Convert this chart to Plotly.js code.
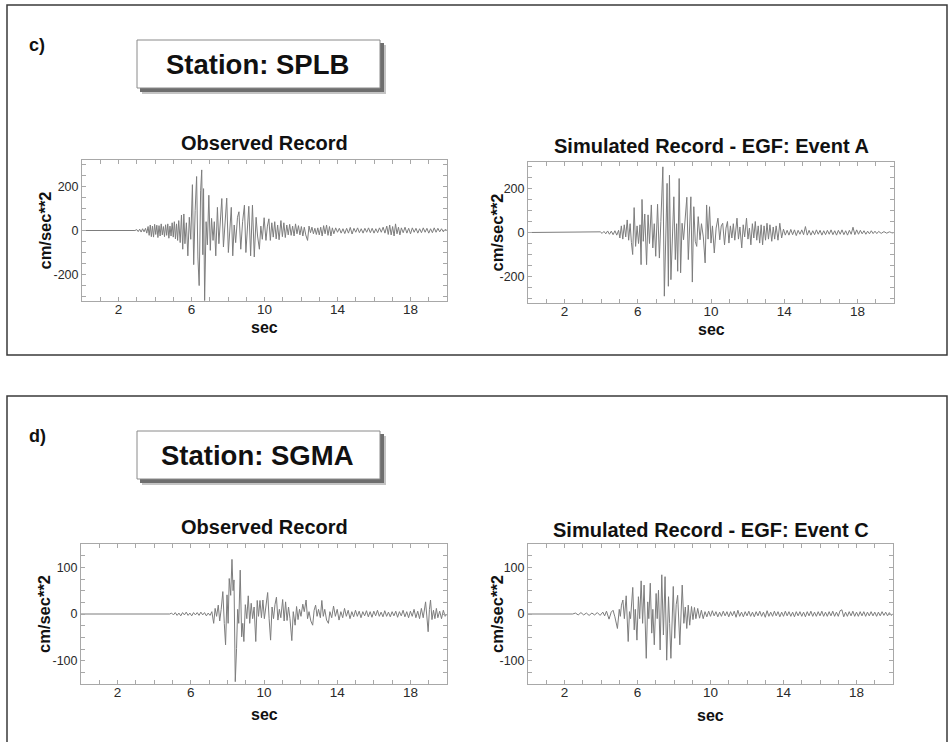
<!DOCTYPE html>
<html>
<head>
<meta charset="utf-8">
<script src="https://cdn.plot.ly/plotly-3.0.1.min.js"></script>
<style>
html,body{margin:0;padding:0;background:#fff;}
#chart{width:949px;height:742px;}
</style>
</head>
<body>
<div id="chart"></div>
<script>
// ---------------- DATA (time [sec], acceleration [cm/sec**2]) ----------------
const obsSPLB = [[0,0],[2.9,0],[3.0,4],[3.08,-5],[3.16,6],[3.24,-7],[3.32,8],[3.4,-6],[3.48,10],[3.55,-12],[3.62,18],[3.68,-22],[3.74,25],[3.8,-28],[3.86,20],[3.92,-30],[3.98,28],[4.04,-18],[4.1,24],[4.16,-32],[4.22,22],[4.28,-25],[4.34,30],[4.4,-20],[4.46,18],[4.52,-28],[4.58,26],[4.64,-22],[4.7,30],[4.76,-35],[4.82,20],[4.88,-25],[4.94,35],[5.0,-30],[5.06,40],[5.12,-38],[5.18,30],[5.24,-45],[5.3,45],[5.38,-55],[5.45,70],[5.52,-85],[5.58,75],[5.64,-60],[5.72,35],[5.8,-115],[5.88,60],[5.96,-40],[6.05,208],[6.12,-155],[6.2,90],[6.28,245],[6.35,-120],[6.42,-250],[6.5,180],[6.56,275],[6.62,-110],[6.66,190],[6.72,-318],[6.8,40],[6.87,-65],[6.95,160],[7.03,-90],[7.1,55],[7.18,-45],[7.25,40],[7.33,-115],[7.42,105],[7.5,-60],[7.58,50],[7.66,145],[7.75,-75],[7.84,60],[7.93,147],[8.02,-100],[8.1,30],[8.18,105],[8.26,-115],[8.34,25],[8.42,-55],[8.52,60],[8.6,85],[8.7,-85],[8.8,40],[8.9,115],[8.98,-100],[9.06,20],[9.14,110],[9.24,-115],[9.34,115],[9.44,-120],[9.54,60],[9.62,-25],[9.72,-85],[9.8,20],[9.88,-40],[9.98,58],[10.08,-45],[10.16,20],[10.24,53],[10.32,-45],[10.4,35],[10.48,-30],[10.56,40],[10.64,-38],[10.72,25],[10.8,-42],[10.9,45],[10.98,-28],[11.06,35],[11.14,-32],[11.22,25],[11.3,-20],[11.38,28],[11.46,-22],[11.54,20],[11.62,-25],[11.7,30],[11.78,-15],[11.86,22],[11.94,-20],[12.02,18],[12.1,-25],[12.18,15],[12.26,-20],[12.36,-45],[12.44,20],[12.52,-10],[12.6,15],[12.68,-15],[12.76,10],[12.84,-18],[12.92,12],[13.0,-20],[13.08,15],[13.16,-25],[13.24,22],[13.32,-15],[13.4,25],[13.48,-22],[13.56,18],[13.64,-25],[13.72,12],[13.8,-15],[13.9,12],[14.0,-8],[14.1,10],[14.2,-12],[14.3,8],[14.4,-14],[14.5,10],[14.6,-12],[14.7,14],[14.8,-16],[14.9,10],[15.0,-8],[15.1,12],[15.2,-10],[15.3,8],[15.4,-12],[15.5,10],[15.6,-8],[15.7,12],[15.8,-10],[15.9,10],[16.0,-12],[16.1,8],[16.2,-10],[16.3,12],[16.4,-8],[16.5,15],[16.6,-12],[16.7,20],[16.78,-18],[16.86,25],[16.94,-20],[17.02,18],[17.1,-25],[17.18,30],[17.26,-15],[17.34,15],[17.42,-20],[17.5,12],[17.6,-10],[17.7,15],[17.8,-12],[17.9,10],[18.0,-15],[18.1,12],[18.2,-8],[18.3,10],[18.4,-12],[18.5,8],[18.6,-10],[18.7,12],[18.8,-8],[18.9,10],[19.0,-12],[19.1,8],[19.2,-10],[19.3,12],[19.4,-8],[19.5,10],[19.6,-6],[19.7,8],[19.8,-6],[19.9,5],[20,0]];

const simSPLB = [[0,0],[3.85,0],[3.95,3],[4.05,-4],[4.15,5],[4.25,-6],[4.35,7],[4.45,-8],[4.55,6],[4.65,-10],[4.75,8],[4.85,-12],[4.95,10],[5.02,-25],[5.1,30],[5.18,-30],[5.26,35],[5.34,-20],[5.42,57],[5.5,-35],[5.58,40],[5.65,-45],[5.72,-100],[5.8,113],[5.88,-63],[5.96,30],[6.04,-50],[6.12,35],[6.18,-146],[6.23,150],[6.3,-40],[6.38,84],[6.48,-146],[6.56,80],[6.64,-50],[6.74,125],[6.82,-70],[6.9,40],[6.98,-108],[7.08,128],[7.18,-116],[7.26,50],[7.37,298],[7.45,-289],[7.53,50],[7.6,223],[7.67,-244],[7.73,260],[7.81,-214],[7.9,60],[7.97,162],[8.05,-123],[8.12,40],[8.18,-176],[8.26,245],[8.34,-183],[8.42,42],[8.5,-33],[8.58,60],[8.68,160],[8.76,-123],[8.84,60],[8.9,162],[8.98,-225],[9.06,117],[9.14,-40],[9.22,-63],[9.3,72],[9.4,-33],[9.48,40],[9.58,-20],[9.68,-138],[9.76,125],[9.84,-30],[9.92,117],[10.0,-48],[10.08,30],[10.18,-93],[10.28,20],[10.38,65],[10.48,-33],[10.56,30],[10.64,42],[10.74,-56],[10.82,20],[10.9,50],[10.98,-48],[11.06,30],[11.14,-25],[11.22,40],[11.3,-35],[11.42,65],[11.5,-30],[11.58,25],[11.68,-70],[11.76,35],[11.84,-20],[11.94,65],[12.02,-30],[12.1,20],[12.18,-56],[12.26,40],[12.34,-25],[12.42,50],[12.5,-35],[12.58,30],[12.66,-48],[12.74,35],[12.82,-56],[12.9,30],[12.98,-35],[13.06,42],[13.14,-30],[13.22,35],[13.32,-40],[13.4,25],[13.48,-30],[13.56,30],[13.66,-35],[13.76,42],[13.86,-25],[13.96,15],[14.06,-12],[14.16,10],[14.26,-12],[14.36,14],[14.46,-10],[14.56,12],[14.66,-14],[14.76,10],[14.86,-8],[14.96,12],[15.06,-10],[15.16,27],[15.26,-12],[15.36,10],[15.46,-12],[15.56,8],[15.66,-10],[15.76,12],[15.86,-8],[15.96,10],[16.06,-12],[16.16,8],[16.26,-10],[16.36,10],[16.46,-8],[16.56,12],[16.66,-10],[16.76,8],[16.86,-12],[16.96,10],[17.06,-8],[17.16,12],[17.26,-10],[17.36,8],[17.46,-12],[17.56,10],[17.66,-8],[17.76,24],[17.86,-10],[17.96,12],[18.06,-8],[18.16,10],[18.26,-6],[18.36,8],[18.46,-8],[18.56,6],[18.66,-6],[18.76,8],[18.86,-5],[18.96,6],[19.06,-5],[19.16,5],[19.3,-4],[19.45,4],[19.6,-3],[19.75,3],[19.9,-2],[20,0]];

const obsSGMA = [[0,0],[4.85,0],[4.95,2],[5.05,-2],[5.15,3],[5.25,-3],[5.35,2],[5.45,-4],[5.55,3],[5.65,-2],[5.75,4],[5.85,-3],[5.95,2],[6.05,-4],[6.15,3],[6.25,-2],[6.35,3],[6.45,-3],[6.55,4],[6.65,-2],[6.75,3],[6.85,-4],[6.95,2],[7.05,-3],[7.15,5],[7.25,-20],[7.33,12],[7.41,-5],[7.5,19],[7.58,-15],[7.66,10],[7.75,48],[7.83,-20],[7.9,-66],[7.98,41],[8.04,-20],[8.1,76],[8.18,40],[8.25,117],[8.31,50],[8.36,73],[8.43,-145],[8.5,-74],[8.56,10],[8.62,-20],[8.7,94],[8.78,-49],[8.84,-20],[8.9,-59],[8.98,20],[9.06,-10],[9.14,39],[9.22,-20],[9.3,23],[9.38,-10],[9.46,15],[9.55,-59],[9.63,29],[9.7,-5],[9.78,29],[9.86,-8],[9.94,30],[10.02,-10],[10.1,20],[10.2,46],[10.28,-10],[10.36,-56],[10.44,15],[10.52,-10],[10.6,20],[10.68,36],[10.76,-13],[10.84,10],[10.92,-8],[11.02,31],[11.1,-15],[11.18,26],[11.26,-14],[11.34,15],[11.42,-10],[11.52,-57],[11.6,5],[11.7,-24],[11.78,16],[11.86,-12],[11.94,10],[12.02,-5],[12.12,21],[12.2,5],[12.3,30],[12.38,-10],[12.46,5],[12.56,-15],[12.66,-24],[12.74,8],[12.82,19],[12.9,-5],[12.98,10],[13.08,-8],[13.16,29],[13.24,-5],[13.32,10],[13.42,-13],[13.52,-20],[13.6,5],[13.7,-8],[13.8,17],[13.9,-5],[14.0,10],[14.1,-13],[14.2,5],[14.3,-8],[14.4,12],[14.5,-5],[14.6,8],[14.7,-10],[14.8,5],[14.9,-6],[15.0,8],[15.1,-5],[15.2,6],[15.3,-8],[15.4,5],[15.5,-4],[15.6,7],[15.7,-6],[15.8,5],[15.9,-7],[16.0,6],[16.1,-4],[16.2,8],[16.3,-5],[16.4,4],[16.5,-6],[16.6,7],[16.7,-5],[16.8,4],[16.9,-6],[17.0,5],[17.1,-4],[17.2,6],[17.3,-7],[17.4,5],[17.5,-4],[17.6,8],[17.7,-6],[17.8,5],[17.9,-8],[18.0,6],[18.1,-5],[18.2,10],[18.3,-8],[18.4,6],[18.5,-10],[18.6,12],[18.7,-8],[18.83,26],[18.92,-15],[18.97,-38],[19.04,10],[19.1,30],[19.18,-12],[19.26,8],[19.34,-10],[19.42,12],[19.5,-8],[19.6,6],[19.7,-10],[19.8,8],[19.9,-5],[20,0]];

const simSGMA = [[0,0],[2.45,0],[2.6,2],[2.75,-2],[2.9,3],[3.05,-2],[3.2,2],[3.35,-3],[3.5,2],[3.65,-2],[3.8,3],[3.95,-3],[4.1,4],[4.2,-4],[4.3,6],[4.44,-11],[4.56,4],[4.66,8],[4.76,-6],[4.9,-31],[5.0,10],[5.06,-5],[5.12,19],[5.2,30],[5.28,-10],[5.38,39],[5.49,-59],[5.56,5],[5.62,-10],[5.74,57],[5.82,-34],[5.88,10],[5.97,-56],[6.05,37],[6.12,-10],[6.2,71],[6.28,-20],[6.36,62],[6.48,-95],[6.56,26],[6.62,-10],[6.7,66],[6.78,-41],[6.84,10],[6.92,-66],[7.02,44],[7.08,-10],[7.15,51],[7.24,-77],[7.33,84],[7.42,-45],[7.51,80],[7.6,-99],[7.7,37],[7.76,-20],[7.83,-95],[7.96,59],[8.04,-52],[8.12,20],[8.2,40],[8.32,-66],[8.45,62],[8.54,-20],[8.62,15],[8.7,-31],[8.78,19],[8.86,-24],[8.96,16],[9.04,-12],[9.12,14],[9.2,-10],[9.3,12],[9.4,-9],[9.5,8],[9.6,-10],[9.7,5],[9.8,-6],[9.9,6],[10.0,-5],[10.1,7],[10.2,-4],[10.3,5],[10.4,-6],[10.5,4],[10.6,-5],[10.7,6],[10.8,-4],[10.9,5],[11.0,-6],[11.1,5],[11.2,-4],[11.3,6],[11.4,-7],[11.5,8],[11.6,-5],[11.7,4],[11.8,-6],[11.9,5],[12.0,-4],[12.1,6],[12.2,-5],[12.3,4],[12.4,-6],[12.5,5],[12.6,-4],[12.7,6],[12.8,-5],[12.9,4],[13.0,-7],[13.1,7],[13.2,-5],[13.3,4],[13.4,-5],[13.5,6],[13.6,-4],[13.7,5],[13.8,-6],[13.9,4],[14.0,-5],[14.1,6],[14.2,-4],[14.3,5],[14.4,-5],[14.5,4],[14.6,-6],[14.7,5],[14.8,-4],[14.9,5],[15.0,-5],[15.1,4],[15.2,-6],[15.3,5],[15.4,-4],[15.5,6],[15.6,-5],[15.7,4],[15.8,-5],[15.9,5],[16.0,-4],[16.1,6],[16.2,-5],[16.3,4],[16.4,-5],[16.5,5],[16.6,-4],[16.7,6],[16.8,-5],[16.9,4],[17.0,-5],[17.1,7],[17.2,9],[17.3,-6],[17.4,4],[17.5,-5],[17.6,5],[17.7,-4],[17.8,6],[17.9,-5],[18.0,4],[18.1,-5],[18.2,5],[18.3,-4],[18.4,5],[18.5,-5],[18.6,4],[18.7,-4],[18.8,5],[18.9,-4],[19.0,4],[19.1,-5],[19.2,4],[19.3,-4],[19.4,5],[19.5,-3],[19.6,4],[19.7,-4],[19.8,3],[19.9,-3],[20,0]];

const xTickVals = [0,1,2,3,4,5,6,7,8,9,10,11,12,13,14,15,16,17,18,19,20];
const xTickLabeled = [2,6,10,14,18];
const yTickValsSPLB = [-300,-250,-200,-150,-100,-50,0,50,100,150,200,250,300];
const yTickLabeledSPLB = [-200,0,200];
const yTickValsSGMA = [-125,-100,-75,-50,-25,0,25,50,75,100,125];
const yTickLabeledSGMA = [-100,0,100];

const panelLabels = ['c)', 'd)'];
const stationNames = ['Station: SPLB', 'Station: SGMA'];
const plotTitles = ['Observed Record', 'Simulated Record - EGF: Event A', 'Observed Record', 'Simulated Record - EGF: Event C'];
const yTitle = 'cm/sec**2';
const xTitle = 'sec';

// ---------------- LAYOUT HELPERS ----------------
const W = 949, H = 742;
const fx = p => p / W;
const fy = p => 1 - p / H;
const FONT = '"Liberation Sans", Arial, Helvetica, sans-serif';
const lineCol = '#7d7d7d';
const axCol = '#a8a8a8';

const series = [obsSPLB, simSPLB, obsSGMA, simSGMA];
const traces = series.map((s, i) => ({
  type: 'scatter', mode: 'lines',
  x: s.map(p => p[0]), y: s.map(p => p[1]),
  xaxis: 'x' + (i === 0 ? '' : i + 1), yaxis: 'y' + (i === 0 ? '' : i + 1),
  line: {color: lineCol, width: 1},
  hoverinfo: 'skip', showlegend: false
}));

// plot rectangles in pixels: [left, right, top, bottom]
const boxes = [[82, 447, 160, 301], [528, 894, 162, 303], [81, 447, 544, 684], [528, 893, 544, 684]];

function xAxis(b, yname) {
  return {
    domain: [fx(b[0]), fx(b[1])], anchor: yname, range: [0, 20],
    showline: true, mirror: 'ticks', linecolor: axCol, linewidth: 1,
    ticks: 'inside', ticklen: 4, tickcolor: axCol, tickwidth: 1,
    ticklabelstandoff: -4,
    tickmode: 'array', tickvals: xTickVals,
    ticktext: xTickVals.map(v => xTickLabeled.includes(v) ? String(v) : ''),
    tickfont: {family: FONT, size: 13.5, color: '#2a2a2a'},
    showgrid: false, zeroline: false, fixedrange: true
  };
}
function yAxis(b, xname, rng, vals, labeled) {
  return {
    domain: [fy(b[3]), fy(b[2])], anchor: xname, range: rng,
    showline: true, mirror: 'ticks', linecolor: axCol, linewidth: 1,
    ticks: 'inside', ticklen: 4, tickcolor: axCol, tickwidth: 1,
    tickmode: 'array', tickvals: vals,
    ticktext: vals.map(v => labeled.includes(v) ? String(v) : ''),
    tickfont: {family: FONT, size: 12.5, color: '#2a2a2a'},
    showgrid: false, zeroline: false, fixedrange: true
  };
}

const layout = {
  width: W, height: H,
  margin: {l: 0, r: 0, t: 0, b: 0},
  paper_bgcolor: '#fff', plot_bgcolor: '#fff',
  showlegend: false,
  xaxis: xAxis(boxes[0], 'y'),
  yaxis: yAxis(boxes[0], 'x', [-320, 320], yTickValsSPLB, yTickLabeledSPLB),
  xaxis2: xAxis(boxes[1], 'y2'),
  yaxis2: yAxis(boxes[1], 'x2', [-320, 320], yTickValsSPLB, yTickLabeledSPLB),
  xaxis3: xAxis(boxes[2], 'y3'),
  yaxis3: yAxis(boxes[2], 'x3', [-150, 150], yTickValsSGMA, yTickLabeledSGMA),
  xaxis4: xAxis(boxes[3], 'y4'),
  yaxis4: yAxis(boxes[3], 'x4', [-150, 150], yTickValsSGMA, yTickLabeledSGMA),
  shapes: [],
  annotations: []
};

function rect(x0, y0, x1, y1, line, fill, opacity) {
  layout.shapes.push({type: 'rect', xref: 'paper', yref: 'paper', layer: 'below',
    x0: fx(x0), x1: fx(x1), y0: fy(y1), y1: fy(y0),
    line: line, fillcolor: fill, opacity: opacity === undefined ? 1 : opacity});
}
function text(t, x, y, size, opts) {
  layout.annotations.push(Object.assign({
    xref: 'paper', yref: 'paper', x: fx(x), y: fy(y), text: t, showarrow: false,
    xanchor: 'center', yanchor: 'middle',
    font: {family: FONT, size: size, color: '#111'}
  }, opts || {}));
}

// panel frames
rect(7, 5, 947, 355, {color: '#3a3a3a', width: 1.5}, 'rgba(0,0,0,0)');
rect(7, 396, 947, 760, {color: '#3a3a3a', width: 1.5}, 'rgba(0,0,0,0)');

// station boxes with drop shadow
const stationY = [40, 431];
stationY.forEach((y0, i) => {
  rect(142, y0 + 5, 386, y0 + 54, {width: 0}, '#c4c4c4', 1);
  rect(140, y0 + 3, 384, y0 + 52, {width: 0}, '#6e6e6e', 1);
  rect(137, y0, 380, y0 + 48, {color: '#8a8a8a', width: 1}, '#ffffff', 1);
  text('<b>' + stationNames[i] + '</b>', 257, y0 + 24.5, 27.5);
  text('<b>' + panelLabels[i] + '</b>', 37, y0 + 5, 18);
});

// plot titles, axis titles
const titleY = [143, 146, 527, 530];
const secY = [328, 329, 714, 715];
const yTitleX = [44, 497, 44, 497];
boxes.forEach((b, i) => {
  const cx = (b[0] + b[1]) / 2;
  text('<b>' + plotTitles[i] + '</b>', cx, titleY[i], 20);
  text('<b>' + xTitle + '</b>', cx, secY[i], 16);
  text('<b>' + yTitle + '</b>', yTitleX[i], (b[2] + b[3]) / 2, 16.5, {textangle: -90});
});

Plotly.newPlot('chart', traces, layout, {displayModeBar: false, staticPlot: true});
</script>
</body>
</html>
